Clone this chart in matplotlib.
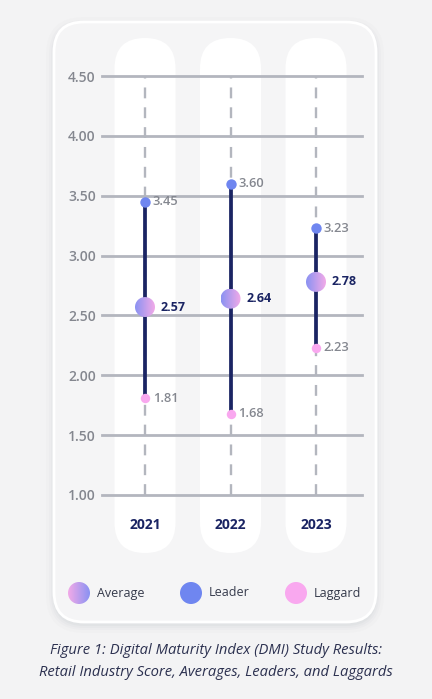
import numpy as np
import matplotlib.pyplot as plt
from matplotlib.patches import FancyBboxPatch, Circle
import matplotlib.colors as mcolors

plt.rcParams['font.family'] = ['Open Sans', 'DejaVu Sans']

# ---- data ----
years = ['2021', '2022', '2023']
average = [2.57, 2.64, 2.78]
leader = [3.45, 3.60, 3.23]
laggard = [1.81, 1.68, 2.23]
yticks = [1.00, 1.50, 2.00, 2.50, 3.00, 3.50, 4.00, 4.50]
legend_labels = ['Average', 'Leader', 'Laggard']
caption = ['Figure 1: Digital Maturity Index (DMI) Study Results:',
           'Retail Industry Score, Averages, Leaders, and Laggards']

# ---- colours ----
NAVY = '#1a2463'
GRID = '#b3b6be'
TICK = '#84878f'
BLUE = '#6f86f0'
PINK = '#f9a8ef'
grad_cmap = mcolors.LinearSegmentedColormap.from_list('g', ['#8a92f2', '#f2aae8'])

W, H = 432, 699
fig = plt.figure(figsize=(W / 100, H / 100), dpi=100)
fig.patch.set_facecolor('#f3f3f4')

bg = fig.add_axes([0, 0, 1, 1])
bg.set_xlim(0, W); bg.set_ylim(H, 0); bg.axis('off'); bg.set_zorder(0)

# card shadow + card
for pad, a in [(8, 0.025), (5, 0.035), (3, 0.045), (1, 0.06)]:
    bg.add_patch(FancyBboxPatch((54 - pad, 22 - pad + 3), 322 + 2 * pad, 600 + 2 * pad,
                                boxstyle=f"round,pad=0,rounding_size={30 + pad}",
                                fc='#8e949e', ec='none', alpha=a))
bg.add_patch(FancyBboxPatch((54, 22), 322, 600, boxstyle="round,pad=0,rounding_size=30",
                            fc='#f5f5f6', ec='white', lw=2))

# main axes
ax = fig.add_axes([102 / W, (H - 495) / H, 260 / W, 419 / H])
ax.set_zorder(1)
ax.patch.set_alpha(0)
x = np.arange(len(years))
ax.set_xlim(-0.503, 2.538)
ax.set_ylim(1.0, 4.5)
for s in ax.spines.values():
    s.set_visible(False)


def to_bg(px):
    return bg.transData.inverted().transform(px)


fig.canvas.draw()
# pills behind each year
for i in x:
    cx, _ = to_bg(ax.transData.transform((i, 1.0)))
    bg.add_patch(FancyBboxPatch((cx - 30.5, 38), 61, 515,
                                boxstyle="round,pad=0,rounding_size=30.5",
                                fc='white', ec='none'))

# grid
for yv in yticks:
    ax.axhline(yv, color=GRID, lw=2, clip_on=False, zorder=1)
ax.vlines(x, yticks[0], yticks[-1], color=GRID, lw=1.7,
          linestyles=(0, (4.6, 3.8)), zorder=1.5)

ax.set_yticks(yticks)
ax.set_yticklabels([f'{v:.2f}' for v in yticks], color=TICK, fontsize=10, fontweight='semibold')
ax.tick_params(axis='y', length=0, pad=4.5)
ax.set_xticks(x)
ax.set_xticklabels(years, color=NAVY, fontsize=10, fontweight='bold')
ax.tick_params(axis='x', length=0, pad=16.5)

# range lines
ax.vlines(x, laggard, leader, color=NAVY, lw=2.7, zorder=3)
ax.plot(x, leader, 'o', color=BLUE, ms=7.5, mec='none', zorder=4)
ax.plot(x, laggard, 'o', color=PINK, ms=6.8, mec='none', zorder=4)

for i in x:
    ax.annotate(f'{leader[i]:.2f}', (i, leader[i]), xytext=(5.5, 0), textcoords='offset points',
                va='center', ha='left', color=TICK, fontsize=9.3, fontweight='semibold')
    ax.annotate(f'{laggard[i]:.2f}', (i, laggard[i]), xytext=(5.5, 0), textcoords='offset points',
                va='center', ha='left', color=TICK, fontsize=9.3, fontweight='semibold')
    ax.annotate(f'{average[i]:.2f}', (i, average[i]), xytext=(11.5, 0), textcoords='offset points',
                va='center', ha='left', color=NAVY, fontsize=9, fontweight='bold')

# top overlay for gradient circles and legend
top = fig.add_axes([0, 0, 1, 1])
top.set_zorder(3); top.patch.set_alpha(0)
grad = np.linspace(0, 1, 64).reshape(1, -1)


def grad_circle(cx, cy, r, reverse=False):
    c = Circle((cx, cy), r, fc='none', ec='none')
    top.add_patch(c)
    g = grad[:, ::-1] if reverse else grad
    im = top.imshow(g, extent=(cx - r, cx + r, cy + r, cy - r), cmap=grad_cmap,
                    aspect='auto', interpolation='bilinear', zorder=5)
    im.set_clip_path(c)


for i in x:
    cx, cy = to_bg(ax.transData.transform((i, average[i])))
    grad_circle(cx, cy, 10)

# legend
leg_x = [79, 191, 296]
leg_y = 593
grad_circle(leg_x[0], leg_y, 11, reverse=True)
top.add_patch(Circle((leg_x[1], leg_y), 11, fc=BLUE, ec='none'))
top.add_patch(Circle((leg_x[2], leg_y), 11, fc=PINK, ec='none'))
for lx, lab in zip(leg_x, legend_labels):
    top.text(lx + 18, leg_y, lab, va='center', ha='left', fontsize=9, color='#363b4c')

top.set_xlim(0, W); top.set_ylim(H, 0); top.axis('off')

# caption
for k, line in enumerate(caption):
    fig.text(0.5, 1 - (650 + 22 * k) / H, line, ha='center', va='center', fontsize=10.6,
             style='italic', color='#2c3150')

fig.savefig('out.png', dpi=100, facecolor=fig.get_facecolor())
